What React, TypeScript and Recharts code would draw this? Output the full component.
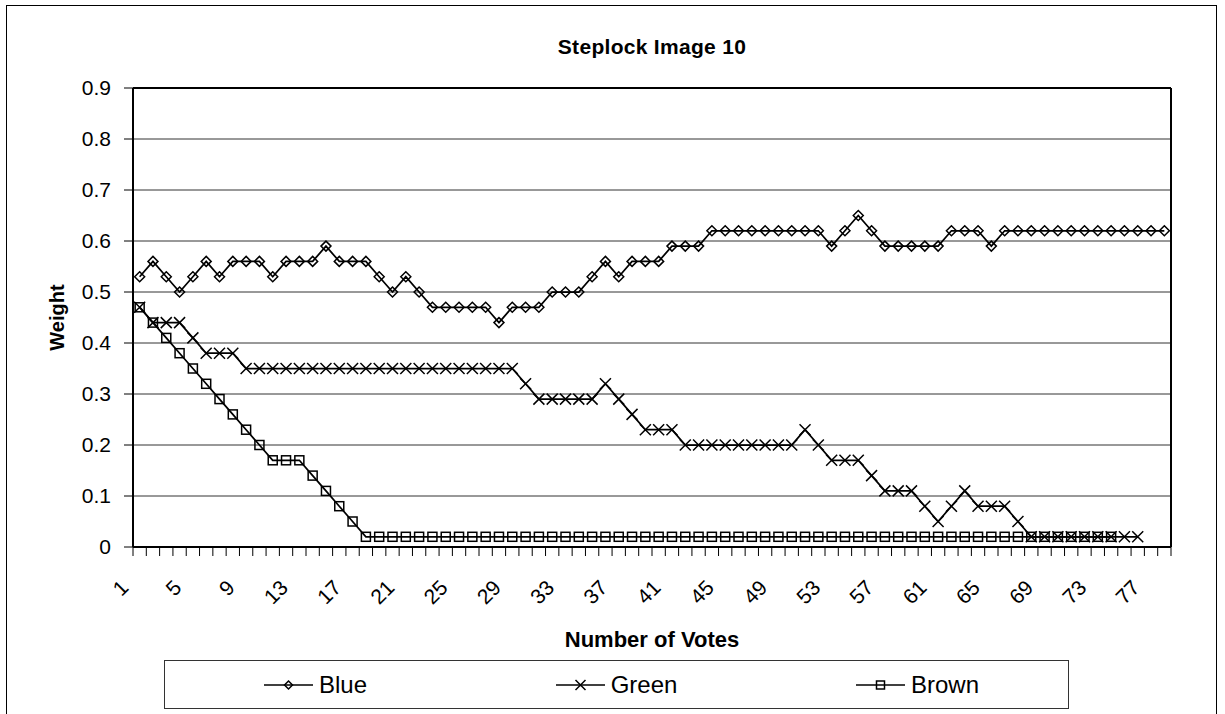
import React from 'react';
import {
  LineChart, Line, XAxis, YAxis, CartesianGrid, Legend, ReferenceLine,
} from 'recharts';

const votes = [
  1, 2, 3, 4, 5, 6, 7, 8, 9, 10, 11, 12, 13, 14, 15, 16, 17, 18, 19, 20,
  21, 22, 23, 24, 25, 26, 27, 28, 29, 30, 31, 32, 33, 34, 35, 36, 37, 38, 39, 40,
  41, 42, 43, 44, 45, 46, 47, 48, 49, 50, 51, 52, 53, 54, 55, 56, 57, 58, 59, 60,
  61, 62, 63, 64, 65, 66, 67, 68, 69, 70, 71, 72, 73, 74, 75, 76, 77, 78,
];

const blue = [
  0.53, 0.56, 0.53, 0.50, 0.53, 0.56, 0.53, 0.56, 0.56, 0.56,
  0.53, 0.56, 0.56, 0.56, 0.59, 0.56, 0.56, 0.56, 0.53, 0.50,
  0.53, 0.50, 0.47, 0.47, 0.47, 0.47, 0.47, 0.44, 0.47, 0.47,
  0.47, 0.50, 0.50, 0.50, 0.53, 0.56, 0.53, 0.56, 0.56, 0.56,
  0.59, 0.59, 0.59, 0.62, 0.62, 0.62, 0.62, 0.62, 0.62, 0.62,
  0.62, 0.62, 0.59, 0.62, 0.65, 0.62, 0.59, 0.59, 0.59, 0.59,
  0.59, 0.62, 0.62, 0.62, 0.59, 0.62, 0.62, 0.62, 0.62, 0.62,
  0.62, 0.62, 0.62, 0.62, 0.62, 0.62, 0.62, 0.62,
];

const green = [
  0.47, 0.44, 0.44, 0.44, 0.41, 0.38, 0.38, 0.38, 0.35, 0.35,
  0.35, 0.35, 0.35, 0.35, 0.35, 0.35, 0.35, 0.35, 0.35, 0.35,
  0.35, 0.35, 0.35, 0.35, 0.35, 0.35, 0.35, 0.35, 0.35, 0.32,
  0.29, 0.29, 0.29, 0.29, 0.29, 0.32, 0.29, 0.26, 0.23, 0.23,
  0.23, 0.20, 0.20, 0.20, 0.20, 0.20, 0.20, 0.20, 0.20, 0.20,
  0.23, 0.20, 0.17, 0.17, 0.17, 0.14, 0.11, 0.11, 0.11, 0.08,
  0.05, 0.08, 0.11, 0.08, 0.08, 0.08, 0.05, 0.02, 0.02, 0.02,
  0.02, 0.02, 0.02, 0.02, 0.02, 0.02,
];

const brown = [
  0.47, 0.44, 0.41, 0.38, 0.35, 0.32, 0.29, 0.26, 0.23, 0.20,
  0.17, 0.17, 0.17, 0.14, 0.11, 0.08, 0.05, 0.02, 0.02, 0.02,
  0.02, 0.02, 0.02, 0.02, 0.02, 0.02, 0.02, 0.02, 0.02, 0.02,
  0.02, 0.02, 0.02, 0.02, 0.02, 0.02, 0.02, 0.02, 0.02, 0.02,
  0.02, 0.02, 0.02, 0.02, 0.02, 0.02, 0.02, 0.02, 0.02, 0.02,
  0.02, 0.02, 0.02, 0.02, 0.02, 0.02, 0.02, 0.02, 0.02, 0.02,
  0.02, 0.02, 0.02, 0.02, 0.02, 0.02, 0.02, 0.02, 0.02, 0.02,
  0.02, 0.02, 0.02, 0.02,
];

const xLabelTicks = [1, 5, 9, 13, 17, 21, 25, 29, 33, 37, 41, 45, 49, 53, 57, 61, 65, 69, 73, 77];
const yTicks = [0, 0.1, 0.2, 0.3, 0.4, 0.5, 0.6, 0.7, 0.8, 0.9];
const seriesNames = ['Blue', 'Green', 'Brown'];

const data = votes.map((v, i) => ({
  vote: v,
  Blue: blue[i],
  Green: green[i],
  Brown: brown[i],
}));

// tick marks sit on category boundaries; labels sit on category centres
const boundaryTicks = [votes[0] - 0.5, ...votes.map((v) => v + 0.5)];
const allXTicks = [...boundaryTicks, ...xLabelTicks].sort((a, b) => a - b);
const xMin = votes[0] - 0.5;
const xMax = votes[votes.length - 1] + 0.5;

const FONT = '"Liberation Sans", Arial, sans-serif';

const Diamond = ({ cx, cy, r = 5 }: any) => (
  <path
    d={`M${cx},${cy - r} L${cx + r},${cy} L${cx},${cy + r} L${cx - r},${cy} Z`}
    fill="none"
    stroke="#000"
    strokeWidth={1.5}
  />
);
const Square = ({ cx, cy, r = 4.5 }: any) => (
  <rect x={cx - r} y={cy - r} width={2 * r} height={2 * r} fill="none" stroke="#000" strokeWidth={1.5} />
);
const Cross = ({ cx, cy, r = 5.5 }: any) => (
  <path
    d={`M${cx - r},${cy - r} L${cx + r},${cy + r} M${cx - r},${cy + r} L${cx + r},${cy - r}`}
    fill="none"
    stroke="#000"
    strokeWidth={1.5}
  />
);

const markerFor: Record<string, any> = { Blue: Diamond, Green: Cross, Brown: Square };

const makeDot = (name: string) => (props: any) => {
  const { cx, cy, index } = props;
  const key = `${name}-dot-${index}`;
  if (cx == null || cy == null || props.value == null || (Array.isArray(props.value) && props.value[1] == null)) {
    return <g key={key} />;
  }
  const M = markerFor[name];
  return <g key={key}><M cx={cx} cy={cy} /></g>;
};

const XTick = (props: any) => {
  const { x, y, payload } = props;
  const v = payload.value;
  if (!Number.isInteger(v)) {
    return <line x1={x} y1={y} x2={x} y2={y + 9} stroke="#000" strokeWidth={1} />;
  }
  const ax = x - 10;
  const ay = y + 42;
  return (
    <text
      x={ax}
      y={ay}
      transform={`rotate(-45, ${ax}, ${ay})`}
      textAnchor="end"
      fontSize={21}
      fontFamily={FONT}
      fill="#000"
    >
      {v}
    </text>
  );
};

const WeightLabel = (props: any) => {
  const vb = props.viewBox || { x: 0, y: 0, width: 0, height: 0 };
  const lx = vb.x + 50;
  const ly = vb.y + vb.height / 2;
  return (
    <text
      x={lx}
      y={ly}
      transform={`rotate(-90, ${lx}, ${ly})`}
      textAnchor="middle"
      dominantBaseline="central"
      fontSize={20}
      fontWeight="bold"
      fontFamily={FONT}
      fill="#000"
    >
      Weight
    </text>
  );
};

const LegendBox = () => (
  <div
    style={{
      boxSizing: 'border-box',
      width: '100%',
      height: 49,
      border: '1px solid #333',
      display: 'flex',
      alignItems: 'center',
      fontFamily: FONT,
      fontSize: 24,
      color: '#000',
      background: '#fff',
    }}
  >
    {seriesNames.map((name) => {
      const M = markerFor[name];
      return (
        <div key={name} style={{ flex: 1, display: 'flex', justifyContent: 'center', alignItems: 'center' }}>
          <svg width={49} height={20} style={{ display: 'block' }}>
            <line x1={0} y1={10} x2={49} y2={10} stroke="#000" strokeWidth={1.5} />
            <M cx={24.5} cy={10} r={name === 'Green' ? 5 : 4} />
          </svg>
          <span style={{ marginLeft: 6, lineHeight: '28px' }}>{name}</span>
        </div>
      );
    })}
  </div>
);

export default function App() {
  return (
    <div
      style={{
        position: 'absolute',
        left: 6,
        top: 5,
        width: 1209,
        height: 708,
        border: '1px solid #000',
        borderBottom: 'none',
        background: '#fff',
        overflow: 'hidden',
      }}
    >
      <div
        style={{
          position: 'absolute',
          left: 0,
          top: 29,
          width: 1290,
          textAlign: 'center',
          fontFamily: FONT,
          fontWeight: 'bold',
          fontSize: 21,
          lineHeight: '24px',
          color: '#000',
          zIndex: 2,
        }}
      >
        <span style={{ display: 'inline-block', letterSpacing: 0.3 }}>Steplock Image 10</span>
      </div>
      <LineChart
        width={1209}
        height={708}
        data={data}
        margin={{ top: 82, right: 45, bottom: 5, left: 0 }}
      >
        <CartesianGrid vertical={false} stroke="#333" strokeWidth={1} />
        <XAxis
          dataKey="vote"
          type="number"
          domain={[xMin, xMax]}
          allowDataOverflow
          ticks={allXTicks}
          interval={0}
          height={113}
          tickSize={0}
          tickMargin={0}
          tickLine={false}
          axisLine={{ stroke: '#000', strokeWidth: 2 }}
          tick={<XTick />}
          label={{
            value: 'Number of Votes',
            position: 'insideBottom',
            offset: 13,
            style: { fontFamily: FONT, fontWeight: 'bold', fontSize: 22, fill: '#000' },
          }}
        />
        <YAxis
          type="number"
          domain={[0, 0.9]}
          ticks={yTicks}
          interval={0}
          width={126}
          tickSize={9}
          tickMargin={13}
          tickFormatter={(v: number) => (v === 0 ? '0' : String(v))}
          tick={{ fontSize: 21, fill: '#000', fontFamily: FONT }}
          tickLine={{ stroke: '#000', strokeWidth: 1 }}
          axisLine={{ stroke: '#000', strokeWidth: 2 }}
          label={<WeightLabel />}
        />
        <ReferenceLine y={0.9} stroke="#000" strokeWidth={2} />
        <ReferenceLine x={xMax} stroke="#000" strokeWidth={2} />
        {seriesNames.map((name) => (
          <Line
            key={name}
            type="linear"
            dataKey={name}
            stroke="#000"
            strokeWidth={1.75}
            dot={makeDot(name)}
            activeDot={false}
            isAnimationActive={false}
            connectNulls={false}
            legendType="none"
          />
        ))}
        <Legend
          verticalAlign="bottom"
          content={() => <LegendBox />}
          wrapperStyle={{ left: 157, width: 905, bottom: 5 }}
        />
      </LineChart>
    </div>
  );
}
